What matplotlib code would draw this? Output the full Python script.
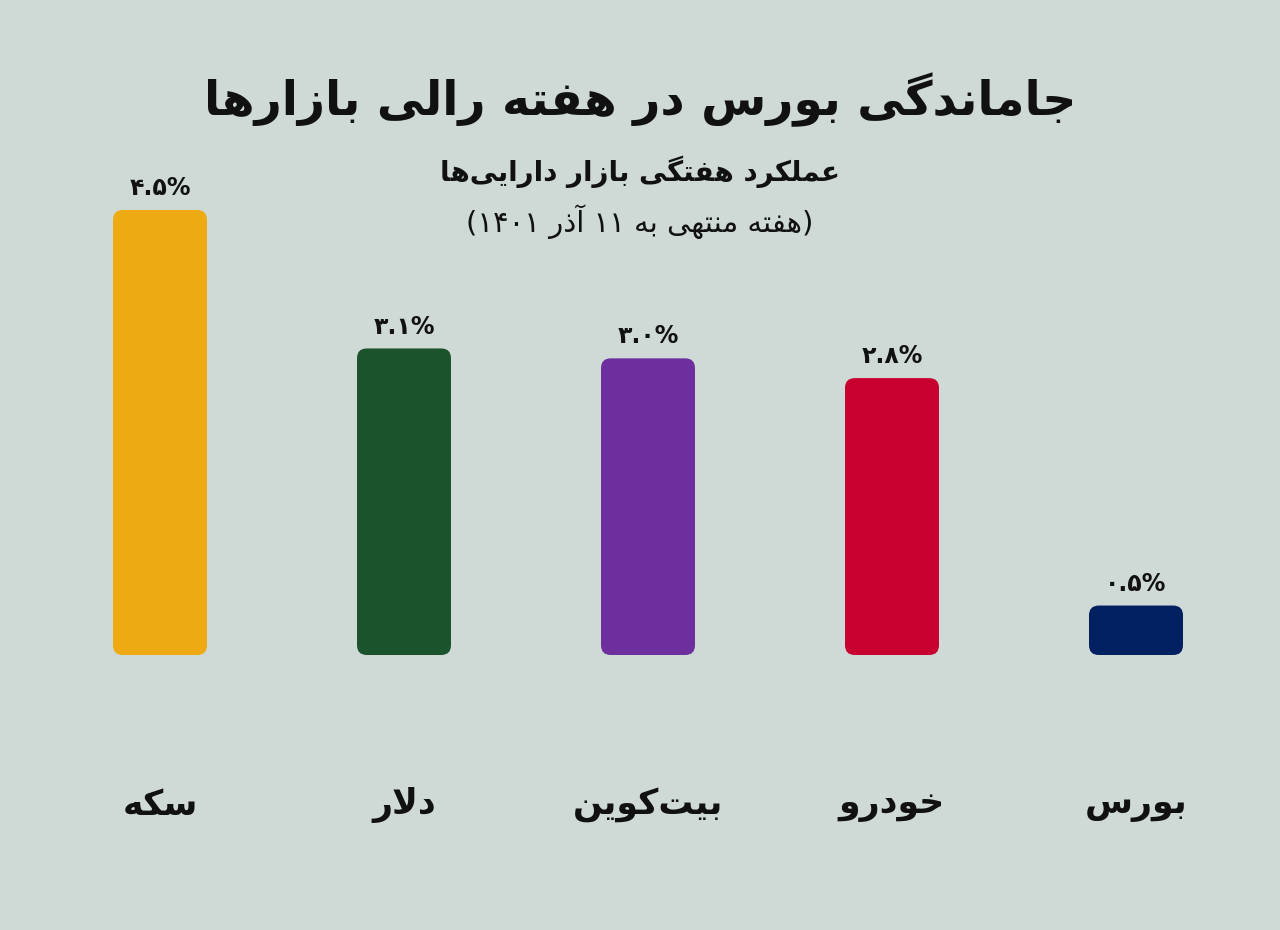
import matplotlib.pyplot as plt
from matplotlib.patches import FancyBboxPatch

plt.rcParams['font.family'] = ['DejaVu Sans']

# forms: isolated, final, initial, medial (only 2 for right-joining letters)
FORMS = {
    'ا': (0xFE8D, 0xFE8E), 'آ': (0xFE81, 0xFE82),
    'ب': (0xFE8F, 0xFE90, 0xFE91, 0xFE92), 'ت': (0xFE95, 0xFE96, 0xFE97, 0xFE98),
    'ج': (0xFE9D, 0xFE9E, 0xFE9F, 0xFEA0), 'خ': (0xFEA5, 0xFEA6, 0xFEA7, 0xFEA8),
    'د': (0xFEA9, 0xFEAA), 'ذ': (0xFEAB, 0xFEAC), 'ر': (0xFEAD, 0xFEAE), 'ز': (0xFEAF, 0xFEB0),
    'س': (0xFEB1, 0xFEB2, 0xFEB3, 0xFEB4), 'ع': (0xFEC9, 0xFECA, 0xFECB, 0xFECC),
    'ف': (0xFED1, 0xFED2, 0xFED3, 0xFED4), 'ل': (0xFEDD, 0xFEDE, 0xFEDF, 0xFEE0),
    'م': (0xFEE1, 0xFEE2, 0xFEE3, 0xFEE4), 'ن': (0xFEE5, 0xFEE6, 0xFEE7, 0xFEE8),
    'ه': (0xFEE9, 0xFEEA, 0xFEEB, 0xFEEC), 'و': (0xFEED, 0xFEEE),
    'ی': (0xFBFC, 0xFBFD, 0xFBFE, 0xFBFF), 'ک': (0xFB8E, 0xFB8F, 0xFB90, 0xFB91),
    'گ': (0xFB92, 0xFB93, 0xFB94, 0xFB95),
}


def shape(s):
    out = []
    chars = list(s)
    i = 0
    while i < len(chars):
        c = chars[i]
        if c not in FORMS:
            if c != '\u200c':
                out.append(c)
            i += 1
            continue
        prev = chars[i - 1] if i > 0 else ''
        pj = prev in FORMS and len(FORMS[prev]) == 4
        if c == 'ل' and i + 1 < len(chars) and chars[i + 1] == 'ا':
            out.append(chr(0xFEFC if pj else 0xFEFB))
            i += 2
            continue
        nxt = chars[i + 1] if i + 1 < len(chars) else ''
        nj = len(FORMS[c]) == 4 and nxt in FORMS
        f = FORMS[c]
        if pj and nj:
            g = f[3]
        elif pj:
            g = f[1]
        elif nj:
            g = f[2]
        else:
            g = f[0]
        out.append(chr(g))
        i += 1
    # visual order: reverse, keep digit runs LTR, mirror parens
    rev = ''.join(out)[::-1]
    res, run = [], ''
    for ch in rev:
        if ch.isdigit():
            run += ch
        else:
            if run:
                res.append(run[::-1]); run = ''
            res.append({'(': ')', ')': '('}.get(ch, ch))
    if run:
        res.append(run[::-1])
    return ''.join(res)


categories = ['سکه', 'دلار', 'بیت\u200cکوین', 'خودرو', 'بورس']
values = [4.5, 3.1, 3.0, 2.8, 0.5]
value_labels = ['۴.۵%', '۳.۱%', '۳.۰%', '۲.۸%', '۰.۵%']
colors = ['#eeaa12', '#1b532c', '#6e2f9e', '#c8002f', '#00205f']
title = 'جاماندگی بورس در هفته رالی بازارها'
subtitle = 'عملکرد هفتگی بازار دارایی\u200cها'
note = '(هفته منتهی به ۱۱ آذر ۱۴۰۱)'

bg = '#cfd9d6'
fig = plt.figure(figsize=(12.8, 9.3), dpi=100, facecolor=bg)
ax = fig.add_axes([38 / 1280, 1 - 655 / 930, 1220 / 1280, 445 / 930])
ax.set_facecolor(bg)
ax.set_xlim(-0.5, 4.5)
ax.set_ylim(0, 4.5)
ax.axis('off')

w = 94 / 244
for i, (v, c) in enumerate(zip(values, colors)):
    p = FancyBboxPatch((i - w / 2, 0), w, v, boxstyle='round,pad=0,rounding_size=0.04',
                       mutation_aspect=2.47, fc=c, ec='none')
    ax.add_patch(p)
    ax.text(i, v + 0.1, value_labels[i], ha='center', va='bottom', fontsize=17,
            fontweight='bold', color='#111111')
    fig.text((38 + (i + 0.5) * 244) / 1280, 1 - 805 / 930, shape(categories[i]),
             ha='center', va='center', fontsize=25, fontweight='bold', color='#111111')

fig.text(0.5, 1 - 100 / 930, shape(title), ha='center', va='center', fontsize=34,
         fontweight='bold', color='#111111')
fig.text(0.5, 1 - 172 / 930, shape(subtitle), ha='center', va='center', fontsize=20,
         fontweight='bold', color='#111111')
fig.text(0.5, 1 - 222 / 930, shape(note), ha='center', va='center', fontsize=21,
         color='#111111')

fig.savefig('out.png', dpi=100, facecolor=bg)
